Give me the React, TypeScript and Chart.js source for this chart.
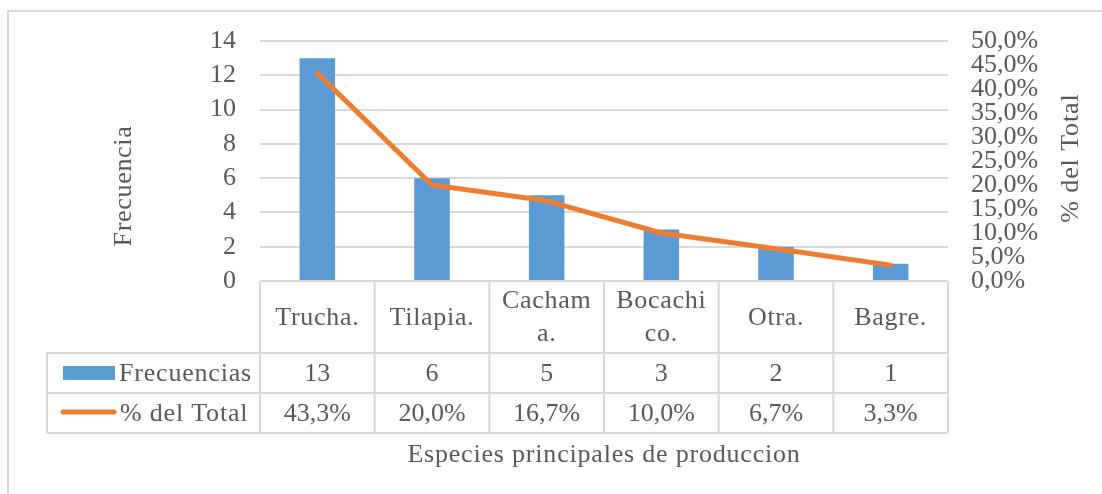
import React, { useEffect, useRef } from "react";
import { Chart, registerables } from "chart.js";

Chart.register(...registerables);

// ---- data ----
const categories: string[][] = [["Trucha."], ["Tilapia."], ["Cacham", "a."], ["Bocachi", "co."], ["Otra."], ["Bagre."]];
const frecuencias: number[] = [13, 6, 5, 3, 2, 1];
const porcentajes: number[] = [43.3, 20.0, 16.7, 10.0, 6.7, 3.3];
const freqLabel = "Frecuencias";
const pctLabel = "% del Total";
const leftTitle = "Frecuencia";
const rightTitle = "% del Total";
const xTitle = "Especies principales de produccion";

// ---- style ----
const W = 1102;
const H = 494;
const FONT = '"Liberation Serif", "Times New Roman", serif';
const FS = 26;
const TEXT = "#595959";
const GRID = "#D9D9D9";
const BLUE = "#5B9BD5";
const ORANGE = "#ED7D31";
const fmtPct = (v: number) => v.toFixed(1).replace(".", ",") + "%";

const tablePlugin = {
  id: "dataTable",
  beforeDraw(chart: any) {
    const ctx = chart.ctx;
    ctx.save();
    ctx.strokeStyle = GRID;
    ctx.lineWidth = 2;
    ctx.beginPath();
    ctx.moveTo(8, H);
    ctx.lineTo(8, 11);
    ctx.lineTo(W, 11);
    ctx.stroke();
    ctx.restore();
  },
  afterDraw(chart: any) {
    const ctx = chart.ctx;
    const { left, right, bottom } = chart.chartArea;
    const xs = chart.scales.x;
    const n = categories.length;
    const colW = (right - left) / n;
    const r1 = bottom + 72;
    const r2 = bottom + 112;
    const r3 = bottom + 152;
    const legL = 47;
    const line = (x1: number, y1: number, x2: number, y2: number) => {
      ctx.beginPath();
      ctx.moveTo(x1, y1);
      ctx.lineTo(x2, y2);
      ctx.stroke();
    };
    const spaced = (t: string, x: number, y: number, sp: number) => {
      (ctx as any).letterSpacing = sp + "px";
      ctx.fillText(t, x, y);
      (ctx as any).letterSpacing = "0px";
    };
    ctx.save();
    ctx.strokeStyle = GRID;
    ctx.lineWidth = 2;
    line(left, bottom, right, bottom);
    line(legL, r1, right, r1);
    line(legL, r2, right, r2);
    line(legL, r3, right, r3);
    line(legL, r1, legL, r3);
    for (let i = 0; i <= n; i++) {
      const x = left + i * colW;
      line(x, bottom, x, r3);
    }

    ctx.fillStyle = TEXT;
    ctx.font = `${FS}px ${FONT}`;
    ctx.textAlign = "center";
    ctx.textBaseline = "middle";
    categories.forEach((lines, i) => {
      const cx = xs.getPixelForValue(i);
      const cy = (bottom + r1) / 2 + 1;
      const lh = 33;
      lines.forEach((t, j) => spaced(t, cx, cy + (j - (lines.length - 1) / 2) * lh, 0.7));
    });
    frecuencias.forEach((v, i) => ctx.fillText(String(v), xs.getPixelForValue(i), (r1 + r2) / 2 + 1));
    porcentajes.forEach((v, i) => ctx.fillText(fmtPct(v), xs.getPixelForValue(i), (r2 + r3) / 2 + 1));

    // legend keys
    ctx.fillStyle = BLUE;
    ctx.fillRect(63, r1 + 13, 52, 14);
    ctx.strokeStyle = ORANGE;
    ctx.lineWidth = 5;
    ctx.lineCap = "round";
    line(63, (r2 + r3) / 2 - 1, 114, (r2 + r3) / 2 - 1);

    ctx.fillStyle = TEXT;
    ctx.textAlign = "left";
    spaced(freqLabel, 119, (r1 + r2) / 2 + 1, 0.8);
    spaced(pctLabel, 120, (r2 + r3) / 2 + 1, 0.8);

    // titles
    ctx.textAlign = "center";
    spaced(xTitle, (left + right) / 2, r3 + 22, 0.8);

    ctx.save();
    ctx.translate(124, 186);
    ctx.rotate(-Math.PI / 2);
    spaced(leftTitle, 0, 0, 0.7);
    ctx.restore();

    ctx.save();
    ctx.translate(1071, 158);
    ctx.rotate(-Math.PI / 2);
    spaced(rightTitle, 0, 0, 0.9);
    ctx.restore();

    ctx.restore();
  },
};

export default function App() {
  const ref = useRef<HTMLCanvasElement | null>(null);
  useEffect(() => {
    if (!ref.current) return;
    const chart = new Chart(ref.current, {
      type: "bar",
      data: {
        labels: categories,
        datasets: [
          {
            type: "line",
            label: pctLabel,
            data: porcentajes,
            yAxisID: "y1",
            borderColor: ORANGE,
            backgroundColor: ORANGE,
            borderWidth: 5,
            borderCapStyle: "round",
            borderJoinStyle: "round",
            pointRadius: 0,
            tension: 0,
            order: 0,
          } as any,
          {
            type: "bar",
            label: freqLabel,
            data: frecuencias,
            yAxisID: "y",
            backgroundColor: BLUE,
            barPercentage: 0.31,
            categoryPercentage: 1,
            order: 1,
          } as any,
        ],
      },
      options: {
        responsive: false,
        animation: false,
        devicePixelRatio: 1,
        layout: { padding: { top: 41, bottom: H - 281, left: 0, right: 0 } },
        plugins: { legend: { display: false }, tooltip: { enabled: false } },
        scales: {
          x: { display: false },
          y: {
            position: "left",
            min: 0,
            max: 14,
            ticks: { stepSize: 2, color: TEXT, font: { family: FONT, size: FS }, padding: 24 },
            grid: { color: GRID, lineWidth: 2, drawTicks: false },
            border: { display: false },
            afterFit: (s: any) => {
              s.width = 260;
            },
          },
          y1: {
            position: "right",
            min: 0,
            max: 50,
            ticks: {
              stepSize: 5,
              autoSkip: false,
              color: TEXT,
              font: { family: FONT, size: FS },
              padding: 23,
              callback: (v: any) => fmtPct(Number(v)),
            },
            grid: { drawOnChartArea: false, drawTicks: false },
            border: { display: false },
            afterFit: (s: any) => {
              s.width = W - 948;
            },
          },
        } as any,
      },
      plugins: [tablePlugin],
    });
    return () => chart.destroy();
  }, []);
  return (
    <div style={{ position: "fixed", left: 0, top: 0, width: W, height: H, background: "#fff" }}>
      <canvas ref={ref} width={W} height={H} style={{ display: "block" }} />
    </div>
  );
}
